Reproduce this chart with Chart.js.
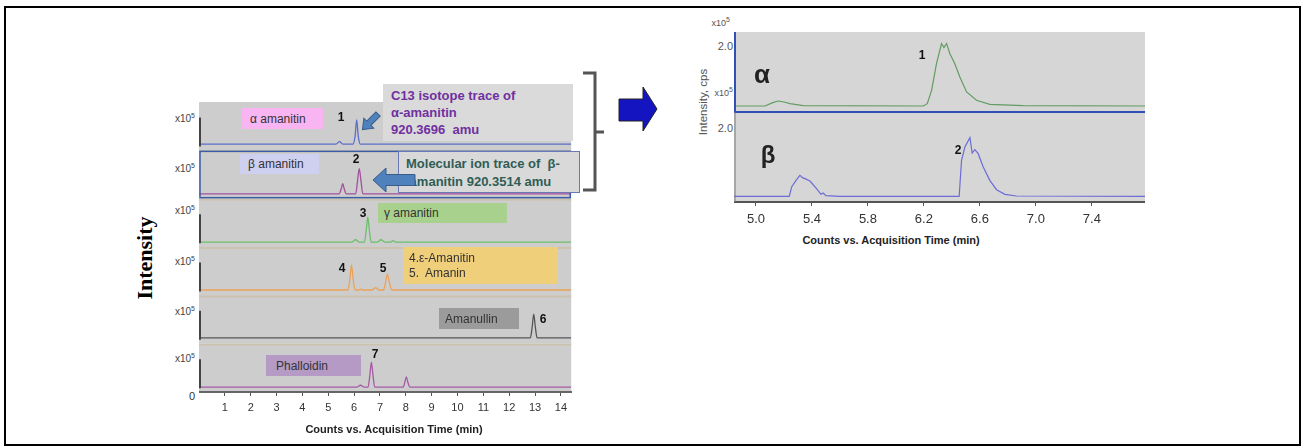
<!DOCTYPE html>
<html>
<head>
<meta charset="utf-8">
<script src="https://cdn.jsdelivr.net/npm/chart.js@4.4.1/dist/chart.umd.min.js"></script>
<style>
  body { margin: 0; background: #fff; width: 1303px; height: 448px; position: relative; overflow: hidden;
         font-family: Arial, "Liberation Sans", sans-serif; }
  .frame { position: absolute; left: 4px; top: 6px; width: 1297px; height: 440px; box-sizing: border-box; border: 2px solid #000; }
  .c { position: absolute; transform: translate(-50%, -50%); white-space: nowrap; }
  .r { position: absolute; transform: translateY(-50%); white-space: nowrap; text-align: right; }
  .sx { font-size: 10px; color: #444; }
  .sx sup { font-size: 7px; vertical-align: 4px; }
  .num { font-weight: bold; font-size: 12px; color: #111; }
  .box { position: absolute; box-sizing: border-box; font-size: 12px; color: #333; padding-left: 8px;
         display: flex; align-items: center; white-space: nowrap; }
  .wrap { position: absolute; }
  svg { position: absolute; left: 0; top: 0; }
</style>
</head>
<body>
<div class="frame"></div>

<div class="wrap" id="leftWrap" style="left:199px; top:102px; width:373px; height:322px;"><canvas id="left"></canvas></div>
<div class="wrap" id="rightWrap" style="left:734px; top:32px; width:411px; height:202px;"><canvas id="right"></canvas></div>

<!-- left chart texts -->
<div class="c" style="left:145px; top:258px; transform:translate(-50%,-50%) rotate(-90deg); font-family:'Liberation Serif','Times New Roman',serif; font-weight:bold; font-size:22px; color:#000;">Intensity</div>
<div class="r sx" style="left:160px; width:35px; top:118px;">x10<sup>5</sup></div>
<div class="r sx" style="left:160px; width:35px; top:168px;">x10<sup>5</sup></div>
<div class="r sx" style="left:160px; width:35px; top:210px;">x10<sup>5</sup></div>
<div class="r sx" style="left:160px; width:35px; top:261px;">x10<sup>5</sup></div>
<div class="r sx" style="left:160px; width:35px; top:311px;">x10<sup>5</sup></div>
<div class="r sx" style="left:160px; width:35px; top:358px;">x10<sup>5</sup></div>
<div class="c" style="left:192px; top:396px; font-size:11px; color:#333;">0</div>
<div class="c" style="left:394px; top:429px; font-size:11px; font-weight:bold; color:#222;">Counts vs. Acquisition Time (min)</div>

<div class="box" style="left:242px; top:108px; width:81px; height:21px; background:#f9b5f1;">α amanitin</div>
<div class="box" style="left:240px; top:154px; width:79px; height:20px; background:#cfcff0;">β amanitin</div>
<div class="box" style="left:378px; top:203px; width:129px; height:20px; background:#a9d18e; padding-left:6px;">γ amanitin</div>
<div class="box" style="left:403px; top:247px; width:155px; height:37px; background:#f0cf7b; padding-left:6px; line-height:15px; display:block; padding-top:4px;">4.ε-Amanitin<br>5.&nbsp; Amanin</div>
<div class="box" style="left:439px; top:308px; width:80px; height:21px; background:#9b9b9b; padding-left:6px;">Amanullin</div>
<div class="box" style="left:266px; top:355px; width:95px; height:21px; background:#b59ac6; padding-left:10px;">Phalloidin</div>

<div class="box" style="left:383px; top:84px; width:190px; height:57px; background:#dadada; display:block; padding:3px 0 0 8px; font-size:13px; font-weight:bold; color:#7030a0; line-height:17px;">C13 isotope trace of<br>α-amanitin<br>920.3696&nbsp; amu</div>
<div class="box" style="left:398px; top:151px; width:182px; height:42px; background:#d9d9d9; border:1px solid #6a78b8; display:block; padding:3px 0 0 7px; font-size:13px; font-weight:bold; color:#2f5d55; line-height:18px;">Molecular ion trace of&nbsp; β-<br>&nbsp;amanitin 920.3514 amu</div>

<div class="c num" style="left:341px; top:117px;">1</div>
<div class="c num" style="left:356px; top:159px;">2</div>
<div class="c num" style="left:363px; top:213px;">3</div>
<div class="c num" style="left:342px; top:268px;">4</div>
<div class="c num" style="left:383px; top:268px;">5</div>
<div class="c num" style="left:543px; top:319px;">6</div>
<div class="c num" style="left:375px; top:354px;">7</div>

<!-- right chart texts -->
<div class="c" style="left:703px; top:102px; transform:translate(-50%,-50%) rotate(-90deg); font-size:11.5px; color:#555;">Intensity, cps</div>
<div class="r sx" style="left:697px; width:33px; top:22px; color:#555; font-size:9px;">x10<sup>5</sup></div>
<div class="r sx" style="left:700px; width:33px; top:46px; color:#555; font-size:11px;">2.0</div>
<div class="r sx" style="left:700px; width:33px; top:92px; color:#555; font-size:9px;">x10<sup>5</sup></div>
<div class="r sx" style="left:700px; width:33px; top:128px; color:#555; font-size:11px;">2.0</div>
<div class="c" style="left:762px; top:74px; font-size:26px; font-weight:bold; color:#222;">α</div>
<div class="c" style="left:768px; top:155px; font-size:24px; font-weight:bold; color:#222;">β</div>
<div class="c num" style="left:922px; top:55px;">1</div>
<div class="c num" style="left:958px; top:150px;">2</div>
<div class="c" style="left:891px; top:240px; font-size:11px; font-weight:bold; color:#222;">Counts vs. Acquisition Time (min)</div>

<svg width="1303" height="448">
  <!-- bracket -->
  <polyline points="583,73 595,73 595,190 583,190" fill="none" stroke="#555" stroke-width="3"/>
  <line x1="595" y1="132" x2="604" y2="132" stroke="#555" stroke-width="3"/>
  <!-- big blue arrow -->
  <polygon points="619,99 643,99 643,87 657,109 643,131 643,121 619,121" fill="#1414c0" stroke="#222" stroke-width="1"/>
  <!-- small arrow towards peak 1 -->
  <g transform="translate(378,114) rotate(135)">
    <polygon points="0,-3 13,-3 13,-7 22,0 13,7 13,3 0,3" fill="#4f81bd" stroke="#385d8a" stroke-width="1"/>
  </g>
  <!-- arrow towards peak 2 -->
  <polygon points="415,174.5 386,174.5 386,168 373,180 386,192 386,185.5 415,185.5" fill="#4f81bd" stroke="#385d8a" stroke-width="1"/>
</svg>

<script>
// ---------- data ----------
const LEFT_TICKS = [1, 2, 3, 4, 5, 6, 7, 8, 9, 10, 11, 12, 13, 14];
const RIGHT_TICKS = [5.0, 5.4, 5.8, 6.2, 6.6, 7.0, 7.4];

// left: [time (min), relative intensity in panel]
const ALPHA_TRACE = [[0, 0.13], [5.3, 0.13], [5.44, 0.18], [5.56, 0.13], [5.96, 0.13], [6.04, 0.3], [6.1, 0.63],
  [6.16, 0.3], [6.24, 0.13], [14.4, 0.13]];
const BETA_TRACE = [[0, 0.1], [5.42, 0.1], [5.5, 0.2], [5.56, 0.31], [5.62, 0.2], [5.7, 0.1], [6.06, 0.1],
  [6.13, 0.35], [6.2, 0.62], [6.27, 0.35], [6.34, 0.1], [14.4, 0.1]];
const GAMMA_TRACE = [[0, 0.1], [5.9, 0.1], [6.06, 0.15], [6.2, 0.1], [6.4, 0.1], [6.47, 0.35], [6.53, 0.62],
  [6.59, 0.35], [6.66, 0.1], [6.9, 0.1], [7.04, 0.15], [7.2, 0.1], [7.4, 0.1], [7.5, 0.13], [7.62, 0.1], [14.4, 0.1]];
const EPS_TRACE = [[0, 0.11], [5.76, 0.11], [5.84, 0.35], [5.9, 0.63], [5.96, 0.35], [6.04, 0.11], [6.2, 0.11],
  [6.25, 0.13], [6.32, 0.11], [6.7, 0.11], [6.83, 0.16], [6.96, 0.11], [7.14, 0.11], [7.22, 0.28], [7.29, 0.44],
  [7.36, 0.28], [7.46, 0.11], [14.4, 0.11]];
const AMANULLIN_TRACE = [[0, 0.12], [12.82, 0.12], [12.89, 0.35], [12.95, 0.61], [13.01, 0.35], [13.08, 0.12], [14.4, 0.12]];
const PHALLOIDIN_TRACE = [[0, 0.1], [6.1, 0.1], [6.25, 0.14], [6.4, 0.1], [6.54, 0.1], [6.61, 0.35], [6.67, 0.62],
  [6.73, 0.35], [6.8, 0.1], [7.9, 0.1], [7.96, 0.2], [8.02, 0.31], [8.08, 0.2], [8.16, 0.1], [14.4, 0.1]];

// right: [time (min), intensity x10^5]
const ALPHA_ZOOM = [[4.843, 0.18], [5.064, 0.18], [5.12, 0.28], [5.159, 0.33], [5.2, 0.3], [5.243, 0.25],
  [5.338, 0.19], [6.195, 0.18], [6.224, 0.25], [6.255, 0.65], [6.29, 1.45], [6.326, 2.05], [6.343, 1.93],
  [6.362, 2.05], [6.386, 1.75], [6.421, 1.45], [6.457, 1.05], [6.505, 0.6], [6.576, 0.35], [6.671, 0.23],
  [6.909, 0.19], [7.78, 0.18]];
const BETA_ZOOM = [[4.843, 0.17], [5.238, 0.17], [5.255, 0.45], [5.286, 0.65], [5.314, 0.8], [5.333, 0.73],
  [5.35, 0.7], [5.386, 0.63], [5.433, 0.4], [5.464, 0.23], [5.48, 0.27], [5.5, 0.19], [5.6, 0.17], [6.452, 0.17],
  [6.469, 1.25], [6.493, 1.65], [6.529, 1.93], [6.545, 1.47], [6.564, 1.57], [6.588, 1.45], [6.624, 1.05],
  [6.671, 0.65], [6.719, 0.37], [6.779, 0.23], [6.862, 0.18], [7.78, 0.17]];

const LEFT_SERIES = [
  { id: 'p1', data: ALPHA_TRACE, color: '#5b6dc8' },
  { id: 'p2', data: BETA_TRACE, color: '#a2509e' },
  { id: 'p3', data: GAMMA_TRACE, color: '#6cbf6c' },
  { id: 'p4', data: EPS_TRACE, color: '#eba258' },
  { id: 'p5', data: AMANULLIN_TRACE, color: '#555555' },
  { id: 'p6', data: PHALLOIDIN_TRACE, color: '#a65aa6' }
];
const RIGHT_SERIES = [
  { id: 'a', data: ALPHA_ZOOM, color: '#639c63', max: 2.4, weight: 8 },
  { id: 'b', data: BETA_ZOOM, color: '#6c6cd6', max: 2.7, weight: 9 }
];

// ---------- panel backgrounds ----------
const panelPlugin = {
  id: 'panels',
  beforeDraw(chart, args, opts) {
    const { ctx, chartArea } = chart;
    const w = chartArea.right - chartArea.left;
    ctx.save();
    opts.ids.forEach((id, i) => {
      const s = chart.scales[id];
      ctx.fillStyle = opts.fill;
      ctx.fillRect(chartArea.left, s.top, w, s.bottom - s.top);
      if (opts.sep && i > 0) {
        ctx.fillStyle = opts.sep;
        ctx.fillRect(chartArea.left, s.top, w, 2);
      }
    });
    ctx.restore();
  },
  afterDatasetsDraw(chart, args, opts) {
    const { ctx, chartArea } = chart;
    ctx.save();
    (opts.frames || []).forEach(f => {
      const s = chart.scales[f.id];
      ctx.strokeStyle = f.color;
      ctx.lineWidth = f.width;
      if (f.box) {
        ctx.strokeRect(chartArea.left + 1, s.top + 1, chartArea.right - chartArea.left - 2, s.bottom - s.top - 2);
      }
      if (f.left) {
        ctx.beginPath();
        ctx.moveTo(chartArea.left + 1, s.top);
        ctx.lineTo(chartArea.left + 1, s.bottom);
        ctx.stroke();
      }
      if (f.bottom) {
        ctx.beginPath();
        ctx.moveTo(chartArea.left, s.bottom);
        ctx.lineTo(chartArea.right, s.bottom);
        ctx.stroke();
      }
    });
    // short y axis stubs on the left of each panel
    (opts.stubs || []).forEach(id => {
      const s = chart.scales[id];
      ctx.strokeStyle = '#444';
      ctx.lineWidth = 2;
      ctx.beginPath();
      ctx.moveTo(chartArea.left + 1, s.getPixelForValue(0.08));
      ctx.lineTo(chartArea.left + 1, s.getPixelForValue(0.68));
      ctx.stroke();
    });
    ctx.restore();
  }
};

function yAxis(id, max, weight, stackWeight) {
  return {
    type: 'linear', position: 'left', stack: 'panels', stackWeight: stackWeight, weight: weight,
    min: 0, max: max,
    ticks: { display: false }, grid: { display: false }, border: { display: false },
    afterFit(scale) { scale.width = 0; }
  };
}

// ---------- left chart ----------
const leftScales = {
  x: {
    type: 'linear', min: 0, max: 14.4,
    afterBuildTicks(scale) { scale.ticks = LEFT_TICKS.map(v => ({ value: v })); },
    afterFit(scale) { scale.height = 32; },
    ticks: { color: '#333', font: { family: 'Arial', size: 11 }, padding: 5 },
    grid: { drawOnChartArea: false, tickLength: 4, color: '#555' },
    border: { color: '#666', width: 2 }
  }
};
LEFT_SERIES.forEach((s, i) => { leftScales[s.id] = yAxis(s.id, 1, LEFT_SERIES.length - i, 1); });

new Chart(document.getElementById('left'), {
  type: 'line',
  data: {
    datasets: LEFT_SERIES.map(s => ({
      data: s.data, yAxisID: s.id, borderColor: s.color, borderWidth: 1.3,
      pointRadius: 0, cubicInterpolationMode: 'monotone', fill: false
    }))
  },
  options: {
    responsive: true, maintainAspectRatio: false, animation: false,
    layout: { padding: 0 },
    plugins: {
      legend: { display: false }, tooltip: { enabled: false },
      panels: {
        ids: LEFT_SERIES.map(s => s.id), fill: '#cdcdcd', sep: '#cbc3b0',
        frames: [{ id: 'p2', color: '#3c5ca4', width: 1.5, box: true }],
        stubs: ['p1', 'p3', 'p4', 'p5', 'p6']
      }
    },
    scales: leftScales
  },
  plugins: [panelPlugin]
});

// ---------- right chart ----------
const rightScales = {
  x: {
    type: 'linear', min: 4.843, max: 7.78,
    afterBuildTicks(scale) { scale.ticks = RIGHT_TICKS.map(v => ({ value: v })); },
    afterFit(scale) { scale.height = 32; },
    ticks: { color: '#333', font: { family: 'Arial', size: 13 }, padding: 6, callback: v => v.toFixed(1) },
    grid: { drawOnChartArea: false, tickLength: 4, color: '#555' },
    border: { color: '#555', width: 2 }
  }
};
RIGHT_SERIES.forEach((s, i) => { rightScales[s.id] = yAxis(s.id, s.max, RIGHT_SERIES.length - i, s.weight); });

new Chart(document.getElementById('right'), {
  type: 'line',
  data: {
    datasets: RIGHT_SERIES.map(s => ({
      data: s.data, yAxisID: s.id, borderColor: s.color, borderWidth: 1.2,
      pointRadius: 0, tension: 0, fill: false
    }))
  },
  options: {
    responsive: true, maintainAspectRatio: false, animation: false,
    layout: { padding: 0 },
    plugins: {
      legend: { display: false }, tooltip: { enabled: false },
      panels: {
        ids: RIGHT_SERIES.map(s => s.id), fill: '#d6d6d6',
        frames: [
          { id: 'a', color: '#3050b8', width: 2, left: true, bottom: true },
          { id: 'b', color: '#777', width: 1, left: true }
        ]
      }
    },
    scales: rightScales
  },
  plugins: [panelPlugin]
});
</script>
</body>
</html>
